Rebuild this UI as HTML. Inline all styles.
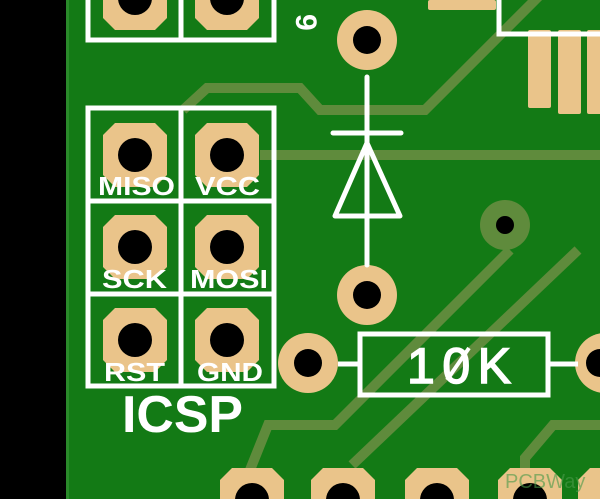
<!DOCTYPE html>
<html><head><style>html,body{margin:0;padding:0;background:#000;width:600px;height:499px;overflow:hidden}svg{display:block}</style></head>
<body>
<svg width="600" height="499" viewBox="0 0 600 499" xmlns="http://www.w3.org/2000/svg" font-family="Liberation Sans, sans-serif" font-weight="bold">
<defs>
<polygon id="oct" points="-20,-32 20,-32 32,-20 32,20 20,32 -20,32 -32,20 -32,-20"/>
</defs>
<rect x="0" y="0" width="600" height="499" fill="#000"/>
<rect x="66" y="0" width="534" height="499" fill="#137a15"/>
<rect x="66" y="0" width="3" height="499" fill="#2a8a2a"/>
<g fill="none" stroke="#5f8b3c" stroke-width="10" stroke-linejoin="miter">
<polyline points="183,110 207,88 300,88 320,110 425,110 540,-5"/>
<line x1="260" y1="155" x2="600" y2="155"/>
<polyline points="250,495 250,470 268,425 335,425 510,250"/>
<line x1="352" y1="465" x2="578" y2="250"/>
<polyline points="525,470 525,458 553,425 600,425"/>
</g>
<circle cx="505" cy="225" r="25" fill="#5f8b3c"/>
<circle cx="505" cy="225" r="9" fill="#000"/>
<g fill="#eac48a">
<use href="#oct" x="135" y="-2"/><use href="#oct" x="227" y="-2"/>
<use href="#oct" x="135" y="155"/><use href="#oct" x="227" y="155"/>
<use href="#oct" x="135" y="247"/><use href="#oct" x="227" y="247"/>
<use href="#oct" x="135" y="340"/><use href="#oct" x="227" y="340"/>
<use href="#oct" x="252" y="500"/><use href="#oct" x="343" y="500"/><use href="#oct" x="437" y="500"/><use href="#oct" x="530" y="500"/><use href="#oct" x="610" y="500"/>
<circle cx="367" cy="40" r="30"/><circle cx="367" cy="295" r="30"/>
<circle cx="308" cy="363" r="30"/><circle cx="605" cy="363" r="30"/>
<rect x="428" y="0" width="68" height="10" rx="2"/>
<rect x="528" y="30" width="23" height="78" rx="2"/>
<rect x="558" y="30" width="23" height="84" rx="2"/>
<rect x="587" y="30" width="20" height="84" rx="2"/>
</g>
<g fill="#000">
<circle cx="135" cy="-2" r="17"/><circle cx="227" cy="-2" r="17"/>
<circle cx="135" cy="155" r="17"/><circle cx="227" cy="155" r="17"/>
<circle cx="135" cy="247" r="17"/><circle cx="227" cy="247" r="17"/>
<circle cx="135" cy="340" r="17"/><circle cx="227" cy="340" r="17"/>
<circle cx="252" cy="500" r="17"/><circle cx="343" cy="500" r="17"/><circle cx="437" cy="500" r="17"/><circle cx="530" cy="500" r="17"/>
<circle cx="367" cy="40" r="14"/><circle cx="367" cy="295" r="14"/>
<circle cx="308" cy="363" r="14"/><circle cx="600" cy="363" r="14"/>
</g>
<g fill="none" stroke="#fff" stroke-width="5">
<polyline points="88,-5 88,40 274,40 274,-5"/>
<line x1="181" y1="-5" x2="181" y2="40"/>
<rect x="88" y="108" width="186" height="278"/>
<line x1="181" y1="108" x2="181" y2="386"/>
<line x1="88" y1="201" x2="274" y2="201"/>
<line x1="88" y1="294" x2="274" y2="294"/>
<polyline points="499,-5 499,34 605,34"/>
<line x1="367" y1="77" x2="367" y2="265" stroke-linecap="round"/>
<line x1="333" y1="133" x2="401" y2="133" stroke-linecap="round"/>
<polygon points="367,143 335,216 400,216" stroke-linejoin="round"/>
<rect x="360" y="334" width="188" height="61"/>
<line x1="338" y1="364" x2="360" y2="364"/>
<line x1="548" y1="364" x2="578" y2="364"/>
</g>
<g fill="#fff" font-size="26">
<text x="98" y="195" textLength="77" lengthAdjust="spacingAndGlyphs">MISO</text><text x="195" y="195" textLength="65" lengthAdjust="spacingAndGlyphs">VCC</text>
<text x="102" y="288" textLength="65" lengthAdjust="spacingAndGlyphs">SCK</text><text x="190" y="288" textLength="78" lengthAdjust="spacingAndGlyphs">MOSI</text>
<text x="104" y="381" textLength="61" lengthAdjust="spacingAndGlyphs">RST</text><text x="197" y="381" textLength="66" lengthAdjust="spacingAndGlyphs">GND</text>
<text x="122" y="432" font-size="52" textLength="121" lengthAdjust="spacingAndGlyphs">ICSP</text>
<text x="0" y="0" font-size="30" transform="translate(296,14) rotate(90)">9</text>
</g>
<text x="407" y="383" font-size="50" font-weight="normal" fill="#fff" stroke="#fff" stroke-width="1.5" textLength="104" lengthAdjust="spacing">10K</text>
<line x1="447" y1="380" x2="469" y2="348" stroke="#fff" stroke-width="4"/>
<text x="505" y="488" font-size="20" fill="#4a9a4a" font-weight="normal" opacity="0.6">PCBWay</text>
</svg>
</body></html>
